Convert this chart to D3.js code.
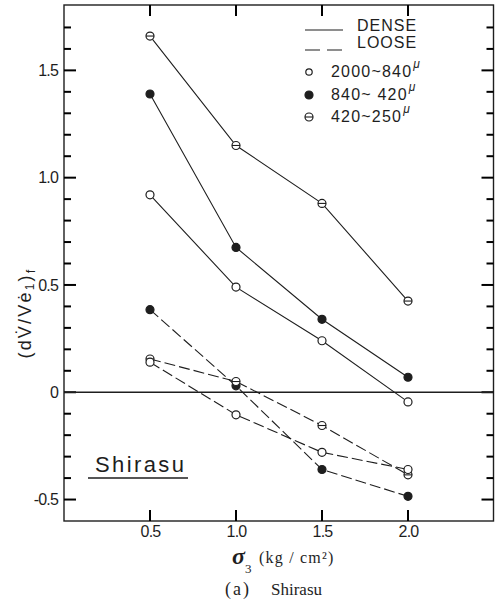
<!DOCTYPE html>
<html>
<head>
<meta charset="utf-8">
<script src="https://cdn.jsdelivr.net/npm/d3@7"></script>
<style>
  body { margin: 0; background: #fff; }
  svg { display: block; }
</style>
</head>
<body>
<div id="chart"></div>
<script>
// confining pressure sigma3 (kg/cm2)
const sigma3 = [0.5, 1.0, 1.5, 2.0];

// (dV/V de1)f
const denseCoarse = [0.92, 0.49, 0.24, -0.045];   // 2000~840, open
const denseMedium = [1.39, 0.675, 0.34, 0.07];    // 840~420, filled
const denseFine = [1.66, 1.15, 0.88, 0.425];      // 420~250, theta
const looseCoarse = [0.14, -0.105, -0.28, -0.36];
const looseMedium = [0.385, 0.03, -0.36, -0.485];
const looseFine = [0.155, 0.05, -0.155, -0.385];

const yMajorTicks = [-0.5, 0, 0.5, 1.0, 1.5];
const yTickLabels = ["-0.5", "0", "0.5", "1.0", "1.5"];
const xTicks = [0.5, 1.0, 1.5, 2.0];
const xTickLabels = ["0.5", "1.0", "1.5", "2.0"];

const ink = "#1e1e1e";
const font = "Liberation Sans, Arial, sans-serif";
const serif = "Liberation Serif, Times New Roman, serif";

// Set up svg
const W = 495, H = 610;
const svg = d3.select("#chart")
    .append("svg")
    .attr("width", W)
    .attr("height", H);

// scales
const x = d3.scaleLinear().domain([0, 2.5]).range([64, 494]);
const y = d3.scaleLinear().domain([-0.6, 1.8]).range([521, 6]);

const yMinor = d3.range(-5, 18).map(d => d / 10).filter(d => Math.round(d * 10) % 5 !== 0);
const xl = x(0), xr = x(2.5) - 0.5;

// frame
svg.append("rect")
    .attr("x", xl).attr("y", 5)
    .attr("width", xr - xl).attr("height", 521 - 5)
    .attr("fill", "none").attr("stroke", ink).attr("stroke-width", 1.4);

// ticks on the frame, all pointing inward
const ticks = svg.append("g").attr("stroke", "#000").attr("stroke-width", 2);
[[xl, 1], [xr, -1]].forEach(([x0, dir]) => {
    ticks.selectAll(null)
        .data(yMinor.map(v => ({ v, len: 7 })).concat(yMajorTicks.map(v => ({ v, len: 12 }))))
        .enter().append("line")
        .attr("x1", x0).attr("x2", d => x0 + dir * d.len)
        .attr("y1", d => y(d.v)).attr("y2", d => y(d.v));
});
[[521, -1], [5, 1]].forEach(([y0, dir]) => {
    ticks.selectAll(null)
        .data(xTicks)
        .enter().append("line")
        .attr("x1", d => x(d)).attr("x2", d => x(d))
        .attr("y1", y0).attr("y2", y0 + dir * 11);
});

// tick labels
svg.append("g")
    .attr("transform", `translate(${xl},0)`)
    .call(d3.axisLeft(y).tickValues(yMajorTicks).tickSize(0).tickPadding(6)
        .tickFormat((d, i) => yTickLabels[i]))
    .call(g => g.select(".domain").remove())
    .call(g => g.selectAll("line").remove())
    .selectAll("text")
    .style("font-family", font)
    .style("font-size", "16px")
    .attr("letter-spacing", -0.8)
    .attr("fill", ink);

svg.append("g")
    .attr("transform", `translate(0,521)`)
    .call(d3.axisBottom(x).tickValues(xTicks).tickSize(0).tickPadding(5)
        .tickFormat((d, i) => xTickLabels[i]))
    .call(g => g.select(".domain").remove())
    .call(g => g.selectAll("line").remove())
    .selectAll("text")
    .style("font-family", font)
    .style("font-size", "16px")
    .attr("letter-spacing", -0.8)
    .attr("fill", ink);

// zero line
svg.append("line")
    .attr("x1", xl).attr("x2", xr)
    .attr("y1", y(0)).attr("y2", y(0))
    .attr("stroke", ink).attr("stroke-width", 1.3);

// series
const series = [
    { values: denseFine, marker: "theta", dash: null },
    { values: denseMedium, marker: "filled", dash: null },
    { values: denseCoarse, marker: "open", dash: null },
    { values: looseMedium, marker: "filled", dash: "11,4" },
    { values: looseFine, marker: "theta", dash: "11,4" },
    { values: looseCoarse, marker: "open", dash: "11,4" }
];

const line = d3.line()
    .x((d, i) => x(sigma3[i]))
    .y(d => y(d));

svg.selectAll(".series")
    .data(series)
    .enter().append("path")
    .attr("class", "series")
    .attr("d", d => line(d.values))
    .attr("fill", "none")
    .attr("stroke", ink)
    .attr("stroke-width", 1.1)
    .attr("stroke-dasharray", d => d.dash);

function drawMarker(g, cx, cy, type, r) {
    g.append("circle")
        .attr("cx", cx).attr("cy", cy).attr("r", r)
        .attr("fill", type === "filled" ? ink : "#fff")
        .attr("stroke", ink)
        .attr("stroke-width", 1.2);
    if (type === "theta") {
        g.append("line")
            .attr("x1", cx - r).attr("x2", cx + r)
            .attr("y1", cy).attr("y2", cy)
            .attr("stroke", ink).attr("stroke-width", 1.1);
    }
}

const markers = svg.append("g");
series.forEach(s => {
    s.values.forEach((v, i) => drawMarker(markers, x(sigma3[i]), y(v), s.marker, 4));
});

// legend
const legend = svg.append("g");
legend.append("line")
    .attr("x1", 305).attr("x2", 343).attr("y1", 30).attr("y2", 30)
    .attr("stroke", ink).attr("stroke-width", 1.2);
legend.append("line")
    .attr("x1", 305).attr("x2", 343).attr("y1", 50).attr("y2", 50)
    .attr("stroke", ink).attr("stroke-width", 1.2)
    .attr("stroke-dasharray", "15,7");
legend.append("text").attr("x", 357).attr("y", 31).text("DENSE")
    .style("font-family", font).style("font-size", "16px")
    .attr("letter-spacing", 1).attr("fill", ink);
legend.append("text").attr("x", 357).attr("y", 48).text("LOOSE")
    .style("font-family", font).style("font-size", "16px")
    .attr("letter-spacing", 1).attr("fill", ink);

const legendRows = [
    { label: "2000~840", marker: "open", y: 72, r: 3.2 },
    { label: "840~ 420", marker: "filled", y: 95, r: 4 },
    { label: "420~250", marker: "theta", y: 117, r: 4 }
];
legendRows.forEach(d => {
    drawMarker(legend, 309, d.y, d.marker, d.r);
    const t = legend.append("text")
        .attr("x", 331).attr("y", d.y + 5)
        .style("font-family", font).style("font-size", "16px")
        .attr("letter-spacing", 1.2)
        .attr("fill", ink);
    t.append("tspan").text(d.label);
    t.append("tspan").attr("dx", 1).attr("dy", -9)
        .style("font-size", "12px").style("font-style", "italic").text("μ");
});

// Shirasu label
svg.append("text")
    .attr("x", 95).attr("y", 472)
    .text("Shirasu")
    .style("font-family", font).style("font-size", "22px")
    .attr("letter-spacing", 2.4)
    .attr("fill", ink);
svg.append("line")
    .attr("x1", 88).attr("x2", 188).attr("y1", 478).attr("y2", 478)
    .attr("stroke", ink).attr("stroke-width", 1.4);

// y-axis label
const yl = svg.append("text")
    .attr("transform", `translate(31,313)rotate(-90)`)
    .attr("text-anchor", "middle")
    .style("font-family", font).style("font-size", "18px")
    .attr("letter-spacing", 2.2)
    .attr("fill", ink);
yl.append("tspan").text("(dV\u0307/Ve\u0307");
yl.append("tspan").attr("dy", 3).style("font-size", "12px").text("1");
yl.append("tspan").attr("dy", -3).text(")");
yl.append("tspan").attr("dy", 4).style("font-size", "13px").text("f");

// x-axis title
const xt = svg.append("text")
    .attr("x", 232).attr("y", 564)
    .style("font-family", serif)
    .attr("fill", ink);
xt.append("tspan").style("font-size", "24px").style("font-style", "italic")
    .style("font-weight", "bold").text("σ");
xt.append("tspan").attr("dy", 9).style("font-size", "13px").text("3");
svg.append("text")
    .attr("x", 259).attr("y", 563)
    .style("font-family", serif).style("font-size", "16px")
    .attr("letter-spacing", 1.2)
    .attr("fill", ink)
    .text("(kg / cm²)");

// caption
svg.append("text")
    .attr("x", 225).attr("y", 595)
    .style("font-family", serif).style("font-size", "18px")
    .attr("letter-spacing", 2)
    .attr("fill", ink)
    .text("(a)");
svg.append("text")
    .attr("x", 271).attr("y", 595)
    .style("font-family", serif).style("font-size", "17px")
    .attr("fill", ink)
    .text("Shirasu");
</script>
</body>
</html>
